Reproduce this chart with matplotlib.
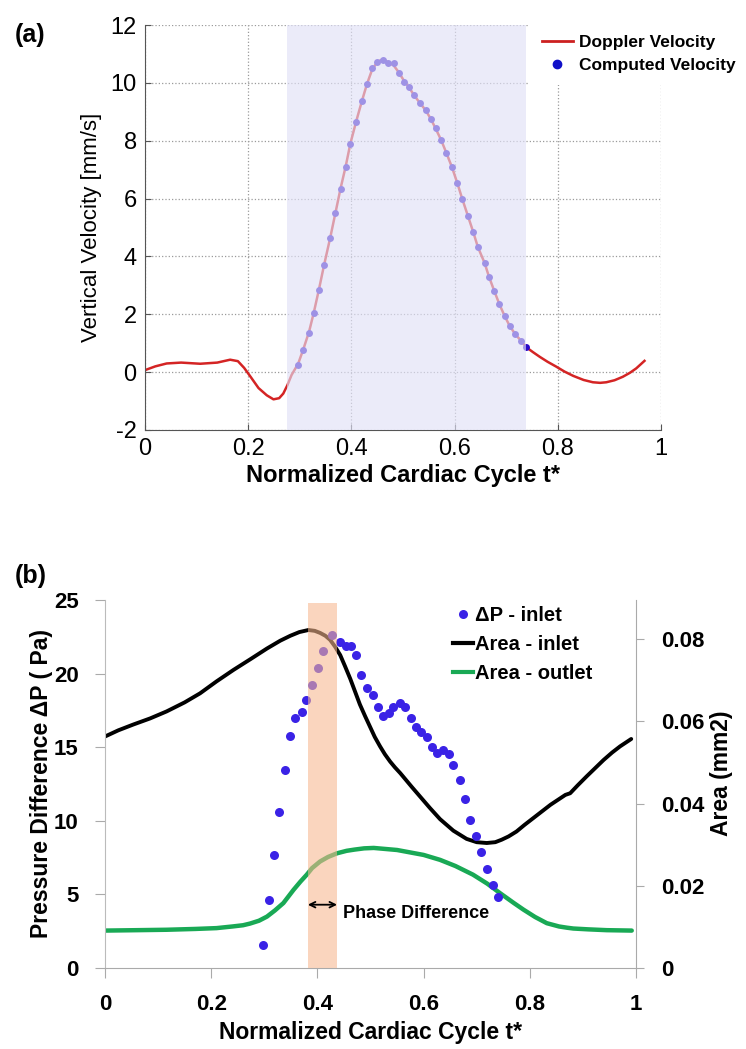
import numpy as np
import matplotlib
matplotlib.use("Agg")
import matplotlib.pyplot as plt
from matplotlib.lines import Line2D

plt.rcParams['font.family'] = ['Liberation Sans', 'DejaVu Sans']
plt.rcParams['axes.unicode_minus'] = False

# ---- panel (a) data ----
doppler_t = [0.0, 0.02, 0.042, 0.07, 0.107, 0.14, 0.165, 0.18, 0.192, 0.203, 0.22, 0.236, 0.249,
             0.26, 0.268, 0.276, 0.284, 0.297, 0.307, 0.318, 0.327, 0.337, 0.347, 0.359, 0.369,
             0.379, 0.389, 0.398, 0.409, 0.42, 0.43, 0.44, 0.45, 0.461, 0.471, 0.482,
             0.492, 0.502, 0.512, 0.521, 0.533, 0.544, 0.554, 0.563, 0.574, 0.584, 0.595,
             0.605, 0.615, 0.626, 0.636, 0.645, 0.658, 0.667, 0.677, 0.687, 0.697, 0.707,
             0.718, 0.729, 0.739, 0.752, 0.765, 0.78, 0.797, 0.813, 0.83, 0.85, 0.868, 0.882,
             0.894, 0.91, 0.926, 0.94, 0.952, 0.968]
doppler_v = [0.07, 0.2, 0.3, 0.33, 0.29, 0.33, 0.43, 0.38, 0.15, -0.12, -0.55, -0.8, -0.94,
             -0.9, -0.74, -0.45, -0.1, 0.3, 0.8, 1.4, 2.05, 2.85, 3.7, 4.65, 5.5,
             6.35, 7.12, 7.9, 8.65, 9.35, 9.95, 10.45, 10.72, 10.82, 10.72, 10.6,
             10.36, 10.07, 9.84, 9.58, 9.3, 9.05, 8.75, 8.43, 8.02, 7.58, 7.08,
             6.55, 5.98, 5.39, 4.85, 4.33, 3.78, 3.28, 2.8, 2.34, 1.94, 1.59,
             1.3, 1.08, 0.86, 0.69, 0.53, 0.36, 0.19, 0.02, -0.13, -0.27, -0.35, -0.37,
             -0.35, -0.28, -0.16, -0.02, 0.13, 0.39]

comp_t = [0.297, 0.307, 0.318, 0.327, 0.337, 0.347, 0.359, 0.369, 0.379, 0.389, 0.398,
          0.409, 0.420, 0.430, 0.440, 0.450, 0.461, 0.471, 0.482, 0.492, 0.502, 0.512,
          0.521, 0.533, 0.544, 0.554, 0.563, 0.574, 0.584, 0.595, 0.605, 0.615, 0.626,
          0.636, 0.645, 0.658, 0.667, 0.677, 0.687, 0.697, 0.707, 0.718, 0.729, 0.739]
comp_v = [0.25, 0.76, 1.36, 2.03, 2.83, 3.69, 4.62, 5.49, 6.32, 7.10, 7.89,
          8.63, 9.36, 9.95, 10.50, 10.73, 10.80, 10.67, 10.67, 10.34, 10.03, 9.84,
          9.57, 9.31, 9.06, 8.75, 8.43, 8.02, 7.58, 7.08, 6.55, 5.98, 5.39,
          4.85, 4.33, 3.78, 3.28, 2.80, 2.34, 1.94, 1.59, 1.32, 1.09, 0.86]

a_xticks = [0, 0.2, 0.4, 0.6, 0.8, 1]
a_xticklabels = ['0', '0.2', '0.4', '0.6', '0.8', '1']
a_yticks = [-2, 0, 2, 4, 6, 8, 10, 12]

# ---- panel (b) data ----
dp_t = [0.298, 0.308, 0.318, 0.328, 0.339, 0.349, 0.358, 0.371, 0.379, 0.389, 0.401,
        0.410, 0.428, 0.443, 0.454, 0.463, 0.473, 0.482, 0.493, 0.504, 0.514, 0.524,
        0.534, 0.543, 0.555, 0.565, 0.577, 0.585, 0.595, 0.606, 0.616, 0.626, 0.637,
        0.648, 0.656, 0.668, 0.678, 0.688, 0.699, 0.708, 0.719, 0.730, 0.741]
dp = [1.58, 4.64, 7.67, 10.63, 13.46, 15.79, 17.0, 17.42, 18.21, 19.23, 20.37,
      21.54, 22.65, 22.13, 21.88, 21.88, 21.27, 19.91, 19.05, 18.56, 17.76, 17.15,
      17.31, 17.76, 18.03, 17.76, 17.01, 16.40, 16.06, 15.72, 15.04, 14.59, 14.82,
      14.55, 13.80, 12.78, 11.49, 10.07, 8.98, 7.85, 6.72, 5.65, 4.80]

inlet_t = [0.0, 0.025, 0.053, 0.085, 0.116, 0.15, 0.179, 0.21, 0.242, 0.275, 0.305, 0.33,
           0.349, 0.366, 0.383, 0.395, 0.405, 0.415, 0.424, 0.433, 0.443, 0.452,
           0.462, 0.471, 0.480, 0.49, 0.499, 0.508, 0.518, 0.527, 0.537, 0.546, 0.556, 0.567,
           0.578, 0.594, 0.612, 0.631, 0.656, 0.681, 0.700, 0.719, 0.735, 0.747, 0.76, 0.775,
           0.79, 0.807, 0.823, 0.839, 0.853, 0.867, 0.876, 0.89, 0.907, 0.923, 0.939,
           0.955, 0.970, 0.991]
inlet_area = [0.0563, 0.0578, 0.0592, 0.0607, 0.0624, 0.0646, 0.0668, 0.0697, 0.0725, 0.0752, 0.0777, 0.0796,
              0.0808, 0.0817, 0.0822, 0.0820, 0.0815, 0.0808, 0.0798, 0.0782, 0.0761, 0.0734,
              0.0703, 0.0672, 0.0641, 0.0612, 0.0587, 0.0562, 0.0539, 0.0520, 0.0502, 0.0488, 0.0474, 0.0457,
              0.0440, 0.0416, 0.0389, 0.0362, 0.0334, 0.0314, 0.0306, 0.0304, 0.0306, 0.0312, 0.0320, 0.0332,
              0.0348, 0.0365, 0.0381, 0.0397, 0.0409, 0.0421, 0.0425, 0.0444, 0.0466, 0.0486, 0.0506,
              0.0524, 0.0539, 0.0557]

outlet_t = [0.0, 0.06, 0.116, 0.17, 0.21, 0.24, 0.26, 0.273, 0.29, 0.305, 0.32, 0.336, 0.355,
            0.368, 0.38, 0.39, 0.405, 0.42, 0.437, 0.455, 0.47, 0.488, 0.506, 0.55, 0.6, 0.631,
            0.66, 0.693, 0.72, 0.744, 0.77, 0.788, 0.81, 0.832, 0.855, 0.87, 0.882, 0.91, 0.945, 0.992]
outlet_area = [0.0091, 0.0092, 0.0093, 0.0095, 0.0097, 0.0101, 0.0104, 0.0108, 0.0115, 0.0125, 0.0140, 0.0158,
               0.0190, 0.0210, 0.0227, 0.0243, 0.0259, 0.0270, 0.0279, 0.0285, 0.0288, 0.0291, 0.0292,
               0.0287, 0.0275, 0.0263, 0.0248, 0.0227, 0.0205, 0.0182, 0.0158, 0.0142, 0.0124, 0.0109,
               0.0101, 0.0098, 0.0096, 0.0094, 0.0092, 0.0091]

b_xticks = [0, 0.2, 0.4, 0.6, 0.8, 1]
b_xticklabels = ['0', '0.2', '0.4', '0.6', '0.8', '1']
b_yticks = [0, 5, 10, 15, 20, 25]
b_y2ticks = [0, 0.02, 0.04, 0.06, 0.08]
b_y2ticklabels = ['0', '0.02', '0.04', '0.06', '0.08']

W, H = 746, 1049
fig = plt.figure(figsize=(W / 100, H / 100), dpi=100)


def fbox(l, t, r, b):
    return [l / W, 1 - b / H, (r - l) / W, (b - t) / H]


# ===== panel (a) =====
ax = fig.add_axes(fbox(145, 25, 661, 430))
ax.plot(doppler_t, doppler_v, color='#d42424', lw=1.8, zorder=2)
ax.plot(comp_t, comp_v, ls='', marker='o', ms=5, color='#2a08c8', mec='none', zorder=2.2)
ax.axvspan(0.275, 0.738, color='#e1e1f7', alpha=0.64, lw=0, zorder=3)
ax.set_xlim(0, 1)
ax.set_ylim(-2, 12)
ax.set_xticks(a_xticks)
ax.set_xticklabels(a_xticklabels)
ax.set_yticks(a_yticks)
ax.grid(True, ls=':', color='#9a9a9a', lw=0.9)
for s in ['top', 'right']:
    ax.spines[s].set_visible(False)
for s in ['left', 'bottom']:
    ax.spines[s].set_color('#555555')
ax.tick_params(direction='in', length=4, color='#555555', labelsize=17, pad=6)
ax.set_ylabel('Vertical Velocity [mm/s]', fontsize=16)
ax.yaxis.set_label_coords(-0.083, 0.5)
ax.set_xlabel('Normalized Cardiac Cycle t*', fontsize=17, fontweight='bold')
ax.xaxis.set_label_coords(0.5, -0.085)

h_a = [Line2D([], [], color='#cc2020', lw=2),
       Line2D([], [], ls='', marker='o', ms=6, color='#1010c8')]
leg = ax.legend(h_a, ['Doppler Velocity', 'Computed Velocity'], loc='upper left',
                bbox_to_anchor=(0.745, 1.005), borderaxespad=0, frameon=True,
                fancybox=False, edgecolor='none', framealpha=1,
                prop={'weight': 'bold', 'size': 12.5}, handlelength=1.8,
                handletextpad=0.35, labelspacing=0.45, borderpad=0.7)
leg.set_zorder(10)
fig.text(0.02, 0.967, '(a)', fontsize=18, fontweight='bold', va='center')

# ===== panel (b) =====
bx = fig.add_axes(fbox(105, 600, 636, 968))
bx2 = bx.twinx()
bx.set_zorder(bx2.get_zorder() + 1)
bx.patch.set_visible(False)

bx2.plot(inlet_t, inlet_area, color='black', lw=2.8, solid_capstyle='round', solid_joinstyle='round')
bx2.plot(outlet_t, outlet_area, color='#19a955', lw=3.2, solid_capstyle='round', solid_joinstyle='round')
bx.plot(dp_t, dp, ls='', marker='o', ms=6.5, color='#3a22e6', mec='none', zorder=3)
bx.axvspan(0.382, 0.437, ymin=0, ymax=0.992, color='#f8b88f', alpha=0.58, lw=0, zorder=5)

bx.set_xlim(0, 1)
bx.set_ylim(0, 25)
bx2.set_ylim(0, 0.0895)
bx.set_xticks(b_xticks)
bx.set_xticklabels(b_xticklabels)
bx.set_yticks(b_yticks)
bx2.set_yticks(b_y2ticks)
bx2.set_yticklabels(b_y2ticklabels)

for a in (bx, bx2):
    a.spines['top'].set_visible(False)
bx.spines['left'].set_color('#bbbbbb')
bx.spines['bottom'].set_color('#aaaaaa')
bx2.spines['right'].set_color('#aaaaaa')
bx2.spines['left'].set_visible(False)
bx2.spines['bottom'].set_visible(False)
bx.spines['right'].set_visible(False)
bx.tick_params(axis='both', direction='out', length=7, color='#aaaaaa', labelsize=16, pad=12)
bx2.tick_params(axis='y', direction='out', length=6, color='#aaaaaa', labelsize=16, pad=12)
for lab in bx.get_xticklabels() + bx.get_yticklabels() + bx2.get_yticklabels():
    lab.set_fontweight('bold')

bx.set_xlabel('Normalized Cardiac Cycle t*', fontsize=16.5, fontweight='bold')
bx.xaxis.set_label_coords(0.5, -0.143)
bx.set_ylabel('Pressure Difference ΔP ( Pa)', fontsize=16.5, fontweight='bold')
bx.yaxis.set_label_coords(-0.098, 0.5)
bx2.set_ylabel('Area (mm2)', fontsize=16.5, fontweight='bold')
bx2.yaxis.set_label_coords(1.14, 0.53)

bx.annotate('', xy=(0.382, 4.3), xytext=(0.437, 4.3),
            arrowprops=dict(arrowstyle='<->', color='black', lw=1.3, shrinkA=0, shrinkB=0),
            zorder=6)
bx.text(0.449, 3.7, 'Phase Difference', fontsize=13, fontweight='bold', va='center', ha='left', zorder=6)

h_b = [Line2D([], [], ls='', marker='o', ms=6.5, color='#3a22e6', mec='none'),
       Line2D([], [], color='black', lw=3),
       Line2D([], [], color='#19a955', lw=3)]
legb = bx.legend(h_b, ['ΔP - inlet', 'Area - inlet', 'Area - outlet'], loc='upper left',
                 bbox_to_anchor=(0.648, 0.995), borderaxespad=0, frameon=False,
                 prop={'weight': 'bold', 'size': 14.5}, handlelength=1.0,
                 handletextpad=0.1, labelspacing=0.5, borderpad=0.2)
legb.set_zorder(10)
fig.text(0.02, 0.451, '(b)', fontsize=18, fontweight='bold', va='center')

fig.savefig('out.png', dpi=100)
